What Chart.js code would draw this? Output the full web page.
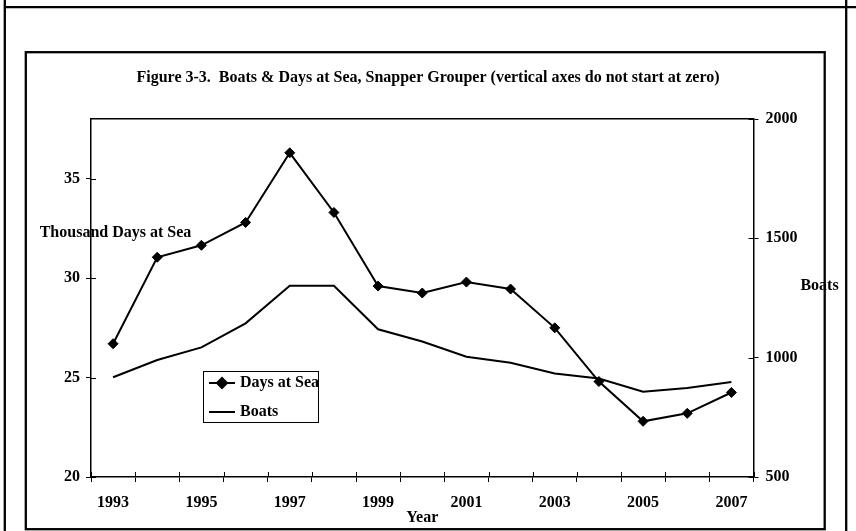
<!DOCTYPE html>
<html>
<head>
<meta charset="utf-8">
<title>Boats & Days at Sea, Snapper Grouper</title>
<script src="https://cdn.jsdelivr.net/npm/chart.js@4.4.1/dist/chart.umd.min.js"></script>
<style>
  html, body { margin: 0; padding: 0; background: #fff; }
  canvas { display: block; }
</style>
</head>
<body>
<canvas id="chart" width="856" height="531"></canvas>
<script>
// ---- data ----
const years = ['1993', '1994', '1995', '1996', '1997', '1998', '1999', '2000',
               '2001', '2002', '2003', '2004', '2005', '2006', '2007'];
const yearLabels = ['1993', '1995', '1997', '1999', '2001', '2003', '2005', '2007'];
// thousand days at sea (left axis)
const daysAtSea = [26.7, 31.05, 31.65, 32.8, 36.3, 33.3, 29.6, 29.25,
                   29.8, 29.45, 27.5, 24.8, 22.8, 23.2, 24.25];
// number of boats (right axis)
const boats = [918, 990, 1043, 1144, 1301, 1301, 1119, 1068,
               1004, 979, 934, 913, 857, 873, 898];
const daysTicks = [20, 25, 30, 35];
const daysMax = 38;
const boatTicks = [500, 1000, 1500, 2000];

const titleText = 'Figure 3-3.  Boats & Days at Sea, Snapper Grouper (vertical axes do not start at zero)';

// ---- styling ----
const FAMILY = '"Liberation Serif", "Times New Roman", Times, serif';
const boldFont = { family: FAMILY, size: 16, weight: 'bold' };
const INK = '#000';

Chart.defaults.color = INK;
Chart.defaults.font.family = FAMILY;

// page frame and the boxed chart panel
const framePlugin = {
  id: 'frame',
  beforeDraw(chart) {
    const ctx = chart.ctx;
    ctx.save();
    ctx.fillStyle = '#fff';
    ctx.fillRect(0, 0, chart.width, chart.height);
    ctx.strokeStyle = INK;
    ctx.lineWidth = 2.3;
    ctx.beginPath();
    ctx.moveTo(4, 7.2); ctx.lineTo(chart.width, 7.2);
    ctx.moveTo(4.8, 0); ctx.lineTo(4.8, chart.height);
    ctx.moveTo(846.2, 0); ctx.lineTo(846.2, chart.height);
    ctx.stroke();
    ctx.strokeRect(25.8, 52.2, 824.7 - 25.8, 529.2 - 52.2);
    ctx.restore();
  }
};

// short tick marks on the inner side of each axis line
const innerTicksPlugin = {
  id: 'innerTicks',
  beforeDatasetsDraw(chart) {
    const { ctx } = chart;
    const { x, y, y1 } = chart.scales;
    const len = 5;
    ctx.save();
    ctx.strokeStyle = INK;
    ctx.lineWidth = 1;
    ctx.beginPath();
    for (let i = 0; i <= years.length; i++) {
      const px = Math.round(x.getPixelForValue(i - 0.5)) + 0.5;
      ctx.moveTo(px, x.top);
      ctx.lineTo(px, x.top - len);
    }
    y.ticks.forEach((t, i) => {
      const py = Math.round(y.getPixelForTick(i)) + 0.5;
      ctx.moveTo(y.right, py);
      ctx.lineTo(y.right + len, py);
    });
    y1.ticks.forEach((t, i) => {
      const py = Math.round(y1.getPixelForTick(i)) + 0.5;
      ctx.moveTo(y1.left, py);
      ctx.lineTo(y1.left - len, py);
    });
    ctx.stroke();
    ctx.restore();
  }
};

// horizontal captions for the two value axes
const axisCaptionPlugin = {
  id: 'axisCaptions',
  afterDraw(chart) {
    const ctx = chart.ctx;
    ctx.save();
    ctx.fillStyle = INK;
    ctx.font = 'bold 16px ' + FAMILY;
    ctx.textAlign = 'center';
    ctx.textBaseline = 'middle';
    ctx.fillText('Thousand Days at Sea', 115.5, 233);
    ctx.fillText('Boats', 819.5, 286);
    ctx.restore();
  }
};

// boxed legend inside the plot area
const legendBoxPlugin = {
  id: 'legendBox',
  afterDraw(chart) {
    const ctx = chart.ctx;
    const box = { left: 203, top: 371, right: 318, bottom: 422 };
    const rows = [383, 412];
    ctx.save();
    ctx.fillStyle = '#fff';
    ctx.fillRect(box.left, box.top, box.right - box.left, box.bottom - box.top);
    ctx.strokeStyle = INK;
    ctx.lineWidth = 1;
    ctx.strokeRect(box.left + 0.5, box.top + 0.5, box.right - box.left, box.bottom - box.top);
    ctx.beginPath();
    ctx.rect(box.left, box.top, box.right - box.left, box.bottom - box.top);
    ctx.clip();
    chart.data.datasets.forEach((ds, i) => {
      const yy = rows[i];
      ctx.strokeStyle = ds.borderColor;
      ctx.lineWidth = ds.borderWidth;
      ctx.beginPath();
      ctx.moveTo(209, yy);
      ctx.lineTo(235, yy);
      ctx.stroke();
      if (ds.pointRadius > 0) {
        ctx.fillStyle = ds.pointBackgroundColor;
        ctx.strokeStyle = ds.pointBorderColor;
        Chart.helpers.drawPoint(ctx, {
          pointStyle: ds.pointStyle,
          radius: ds.pointRadius,
          borderWidth: ds.pointBorderWidth,
          rotation: 0
        }, 222, yy);
      }
      ctx.fillStyle = INK;
      ctx.font = 'bold 16px ' + FAMILY;
      ctx.textAlign = 'left';
      ctx.textBaseline = 'middle';
      ctx.fillText(ds.label, 240, yy);
    });
    ctx.restore();
  }
};

const axisGrid = {
  drawOnChartArea: false,
  drawTicks: true,
  tickLength: 5,
  color: INK,
  lineWidth: 1
};
const axisBorder = { display: true, color: INK, width: 1.5 };
const plainNumber = value => String(value);

new Chart(document.getElementById('chart'), {
  type: 'line',
  data: {
    labels: years,
    datasets: [
      {
        label: 'Days at Sea',
        data: daysAtSea,
        yAxisID: 'y',
        borderColor: INK,
        borderWidth: 2,
        pointStyle: 'rectRot',
        pointRadius: 5,
        pointBackgroundColor: INK,
        pointBorderColor: INK,
        pointBorderWidth: 1,
        tension: 0,
        fill: false
      },
      {
        label: 'Boats',
        data: boats,
        yAxisID: 'y1',
        borderColor: INK,
        borderWidth: 2,
        pointRadius: 0,
        pointBackgroundColor: INK,
        pointBorderColor: INK,
        pointBorderWidth: 0,
        tension: 0,
        fill: false
      }
    ]
  },
  options: {
    responsive: false,
    animation: false,
    devicePixelRatio: 1,
    layout: { padding: { left: 34, right: 34, top: 0, bottom: 2 } },
    plugins: {
      legend: { display: false },
      tooltip: { enabled: false },
      title: {
        display: true,
        text: titleText,
        color: INK,
        font: boldFont,
        padding: { top: 68.4, bottom: 31.4 }
      }
    },
    scales: {
      x: {
        type: 'category',
        position: 'bottom',
        offset: true,
        grid: Object.assign({ offset: true }, axisGrid),
        border: axisBorder,
        ticks: {
          autoSkip: false,
          maxRotation: 0,
          padding: 11,
          color: INK,
          font: boldFont,
          callback(value, index) {
            const label = this.getLabelForValue(value);
            return yearLabels.includes(label) ? label : '';
          }
        },
        title: {
          display: true,
          text: 'Year',
          color: INK,
          font: boldFont,
          padding: { top: 0, bottom: 1.4 }
        },
        afterFit(scale) { scale.height = 52; }
      },
      xTop: {
        type: 'category',
        position: 'top',
        offset: true,
        grid: { display: false },
        border: axisBorder,
        ticks: { display: false },
        afterFit(scale) { scale.height = 0; }
      },
      y: {
        type: 'linear',
        position: 'left',
        min: daysTicks[0],
        max: daysMax,
        grid: axisGrid,
        border: axisBorder,
        ticks: { padding: 6, color: INK, font: boldFont, callback: plainNumber },
        afterBuildTicks(scale) { scale.ticks = daysTicks.map(value => ({ value })); },
        afterFit(scale) { scale.width = 57; }
      },
      y1: {
        type: 'linear',
        position: 'right',
        min: boatTicks[0],
        max: boatTicks[boatTicks.length - 1],
        grid: axisGrid,
        border: axisBorder,
        ticks: { padding: 7, color: INK, font: boldFont, callback: plainNumber },
        afterBuildTicks(scale) { scale.ticks = boatTicks.map(value => ({ value })); },
        afterFit(scale) { scale.width = 856 - 34 - 753.5; }
      }
    }
  },
  plugins: [framePlugin, innerTicksPlugin, axisCaptionPlugin, legendBoxPlugin]
});
</script>
</body>
</html>
